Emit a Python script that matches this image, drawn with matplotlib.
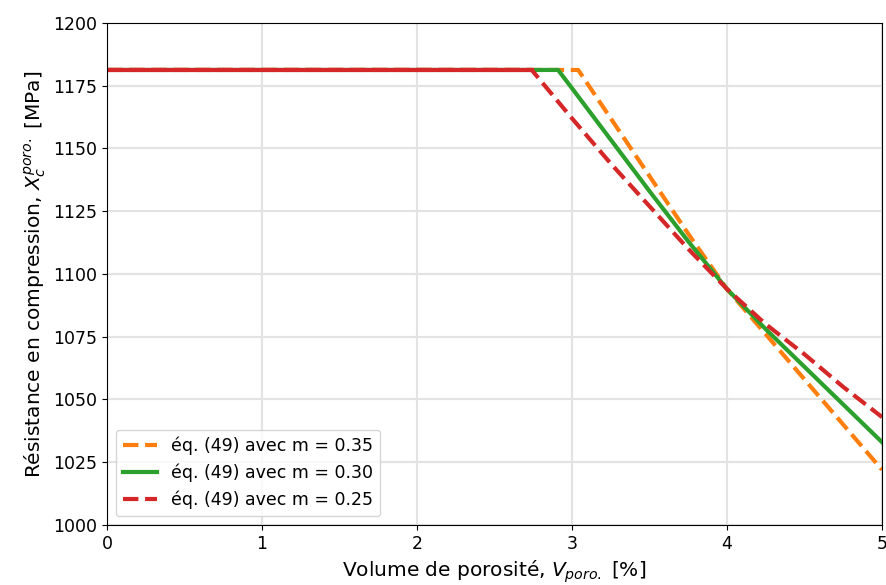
import matplotlib
matplotlib.use('Agg')
import matplotlib.pyplot as plt

# Porosity volume [%] and compressive strength [MPa]
x_m035 = [0.0, 3.04, 3.25, 3.5, 3.75, 4.0, 4.25, 4.5, 4.75, 5.0]
y_m035 = [1181.3, 1181.3, 1162, 1139, 1116, 1094, 1076, 1058, 1040, 1022]

x_m030 = [0.0, 2.91, 3.0, 3.25, 3.5, 3.75, 4.0, 4.25, 4.5, 4.75, 5.0]
y_m030 = [1181.3, 1181.3, 1174, 1153.5, 1133, 1113, 1094, 1078, 1063, 1048, 1033]

x_m025 = [0.0, 2.74, 3.0, 3.25, 3.5, 3.75, 4.0, 4.25, 4.5, 4.75, 5.0]
y_m025 = [1181.3, 1181.3, 1162, 1144, 1127, 1110, 1094, 1080, 1068, 1055, 1043]

labels = ['éq. (49) avec m = 0.35', 'éq. (49) avec m = 0.30', 'éq. (49) avec m = 0.25']

fig = plt.figure(figsize=(8.87, 5.85), dpi=100)
ax = fig.add_axes([107 / 887, 60 / 585, 775 / 887, 502 / 585])

ax.plot(x_m035, y_m035, '--', color='tab:orange', lw=3, label=labels[0])
ax.plot(x_m030, y_m030, '-', color='tab:green', lw=3, label=labels[1])
ax.plot(x_m025, y_m025, '--', color='tab:red', lw=3, label=labels[2])
# plateau (no porosity effect) drawn solid on top
ax.plot(x_m025[:2], y_m025[:2], '-', color='tab:red', lw=3)

ax.set_xlim(0, 5)
ax.set_ylim(1000, 1200)
ax.set_yticks(range(1000, 1201, 25))
ax.grid(color='#e3e3e3', lw=1.5)
ax.set_axisbelow(True)
ax.tick_params(labelsize=12.5)

ax.set_xlabel('Volume de porosité, $V_{poro.}$ [%]', fontsize=14.5)
ax.set_ylabel('Résistance en compression, $X_c^{poro.}$ [MPa]', fontsize=14.5)
ax.legend(loc='lower left', fontsize=12.5)

plt.savefig('out.png', dpi=100)
